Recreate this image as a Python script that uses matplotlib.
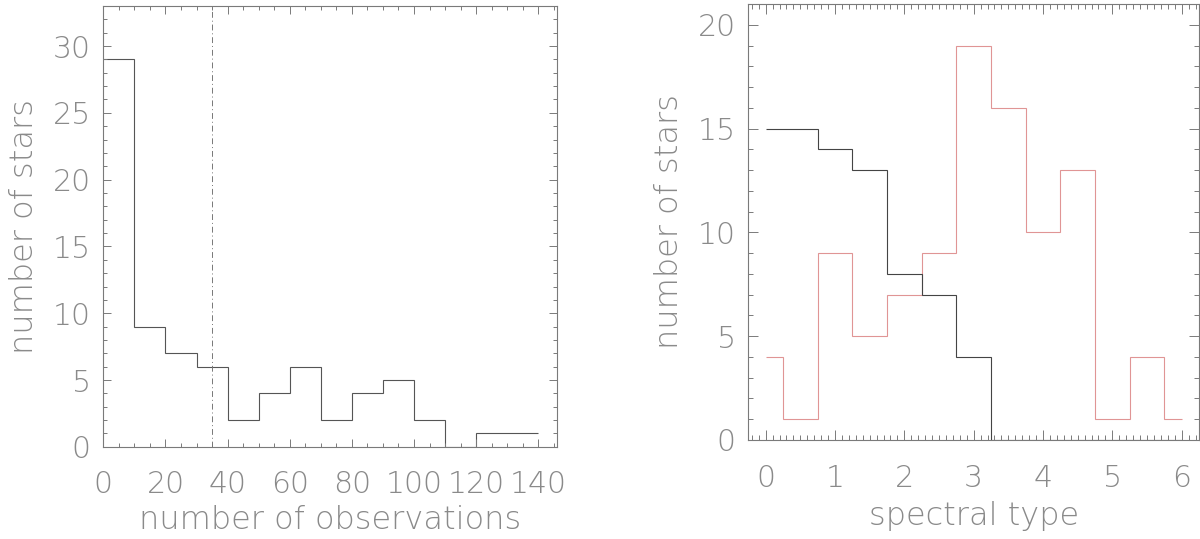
import matplotlib

matplotlib.use("Agg")
import matplotlib.pyplot as plt
from matplotlib.ticker import MultipleLocator

# 观测次数直方图
obs_edges = [0, 10, 20, 30, 40, 50, 60, 70, 80, 90, 100, 110, 120, 130, 140]
obs_counts = [29, 9, 7, 6, 2, 4, 6, 2, 4, 5, 2, 0, 1, 1]
obs_cut = 35

# 光谱型直方图
sp_edges = [0, 0.25, 0.75, 1.25, 1.75, 2.25, 2.75, 3.25, 3.75, 4.25, 4.75, 5.25, 5.75, 6.0]
sp_black = [15, 15, 14, 13, 8, 7, 4, 0, 0, 0, 0, 0, 0]
sp_red = [4, 1, 9, 5, 7, 9, 19, 16, 10, 13, 1, 4, 1]

TEXT = "#8a8a8a"
AXC = "#7a7a7a"
plt.rcParams["font.family"] = ["DejaVu Sans"]


def style_axes(ax, xmaj, xmin, ymaj, ymin, major_len, minor_len):
    for s in ax.spines.values():
        s.set_color(AXC)
        s.set_linewidth(0.8)
    ax.xaxis.set_major_locator(MultipleLocator(xmaj))
    ax.xaxis.set_minor_locator(MultipleLocator(xmin))
    ax.yaxis.set_major_locator(MultipleLocator(ymaj))
    ax.yaxis.set_minor_locator(MultipleLocator(ymin))
    ax.tick_params(which="both", direction="in", top=True, right=True,
                   color=AXC, width=0.7, labelcolor=TEXT, labelsize=21.5)
    ax.tick_params(which="major", length=major_len)
    ax.tick_params(which="minor", length=minor_len)
    ax.tick_params(axis="x", pad=17)
    ax.tick_params(axis="y", pad=9)
    for lab in ax.get_xticklabels() + ax.get_yticklabels():
        lab.set_fontweight("light")


fig = plt.figure(figsize=(12, 5.39), dpi=100)
ax1 = fig.add_axes([0.0861, 0.171, 0.378, 0.818])
ax2 = fig.add_axes([0.6236, 0.1837, 0.3756, 0.8089])

# 左图
ax1.stairs(obs_counts, obs_edges, baseline=None, color="#555555", linewidth=0.8)
ax1.axvline(obs_cut, color="#777777", linewidth=0.7, linestyle=(0, (6, 3, 1, 3)))
ax1.set_xlim(0, 146)
ax1.set_ylim(0, 33)
style_axes(ax1, 20, 5, 5, 1, 6, 3)
ax1.set_xlabel("number of observations", fontsize=23, color=TEXT,
               fontweight="light", labelpad=4)
ax1.set_ylabel("number of stars", fontsize=23, color=TEXT,
               fontweight="light", labelpad=10)

# 右图
ax2.stairs(sp_red, sp_edges, baseline=None, color="#e09595", linewidth=0.8)
ax2.stairs(sp_black, sp_edges, baseline=None, color="#444444", linewidth=0.8)
ax2.set_xlim(-0.25, 6.25)
ax2.set_ylim(0, 21)
style_axes(ax2, 1, 0.1, 5, 1, 7, 3.5)
ax2.set_xlabel("spectral type", fontsize=23, color=TEXT,
               fontweight="light", labelpad=6)
ax2.set_ylabel("number of stars", fontsize=23, color=TEXT,
               fontweight="light", labelpad=10)

fig.savefig("out.png", dpi=100)
